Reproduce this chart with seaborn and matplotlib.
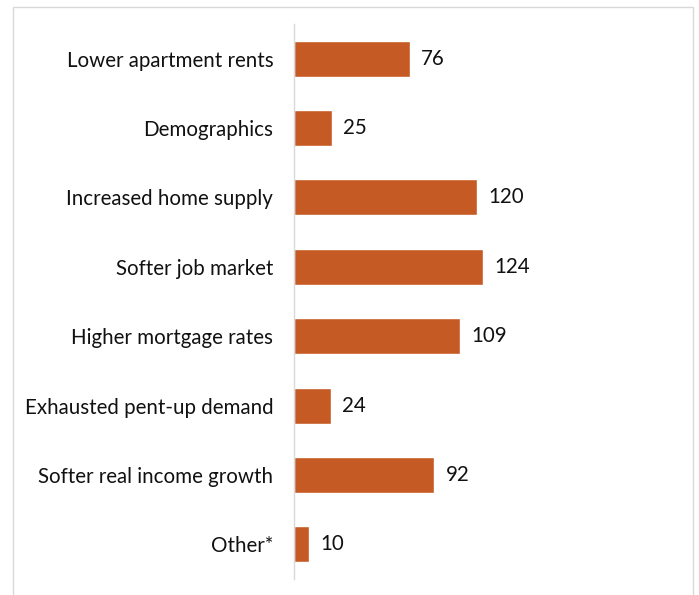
import matplotlib
matplotlib.use('Agg')
import matplotlib.pyplot as plt
import seaborn as sns
import pandas as pd
from matplotlib.patches import Rectangle

################################################################################

reasons = [
    'Lower apartment rents',
    'Demographics',
    'Increased home supply',
    'Softer job market',
    'Higher mortgage rates',
    'Exhausted pent-up demand',
    'Softer real income growth',
    'Other*',
]
counts = [76, 25, 120, 124, 109, 24, 92, 10]

bar_color = '#C55A24'

################################################################################

sns.set_theme(style = 'white')
plt.rcParams['font.family'] = ['Lato', 'DejaVu Sans']

df = pd.DataFrame({'reason': reasons, 'count': counts})

fig = plt.figure(figsize = (6.99, 5.95), dpi = 100)
ax = fig.add_axes([294 / 699, 1 - 579 / 595, 212 / 699, 555 / 595])

sns.barplot(data = df, y = 'reason', x = 'count', color = bar_color,
            saturation = 1, width = 0.52, ax = ax, orient = 'h')

ax.set_xlim(0, 139)
ax.set_ylim(7.5, -0.5)
ax.set_xlabel('')
ax.set_ylabel('')
ax.set_xticks([])
ax.tick_params(axis = 'y', length = 0, pad = 15, labelsize = 14.8, labelcolor = '#111111')

for side in ['top', 'right', 'bottom']:
    ax.spines[side].set_visible(False)
ax.spines['left'].set_color('#d9d9d9')
ax.spines['left'].set_linewidth(1)

for container in ax.containers:
    ax.bar_label(container, padding = 8, fontsize = 14.8, color = '#111111')

# light frame around the whole chart
fig.patches.append(Rectangle((13 / 699, -0.01), 680 / 699, 1 - 7 / 595 + 0.01,
                             transform = fig.transFigure, fill = False,
                             edgecolor = '#d9d9d9', linewidth = 1))

fig.savefig('out.png', dpi = 100)
